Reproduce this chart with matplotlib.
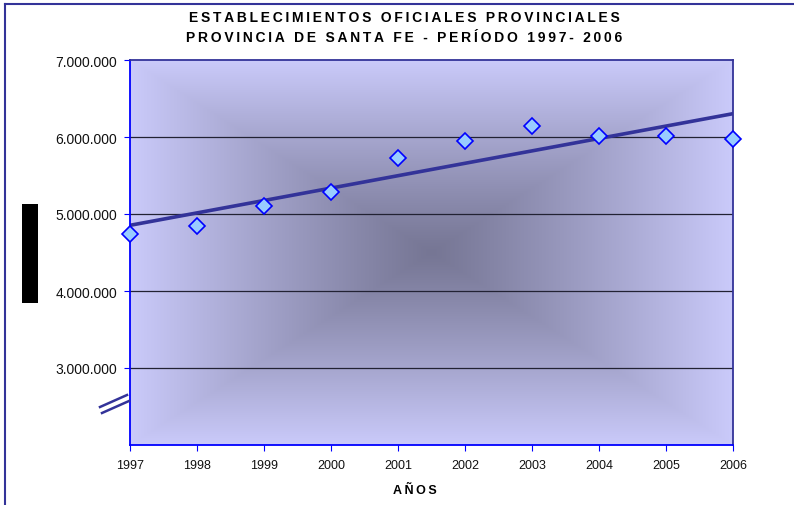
import numpy as np
import matplotlib.pyplot as plt
from matplotlib.lines import Line2D
from matplotlib.patches import Rectangle

# data
years = [1997, 1998, 1999, 2000, 2001, 2002, 2003, 2004, 2005, 2006]
values = [4740000, 4840000, 5100000, 5290000, 5730000,
          5950000, 6140000, 6010000, 6010000, 5970000]
y_ticks = [3000000, 4000000, 5000000, 6000000, 7000000]
y_labels = ['3.000.000', '4.000.000', '5.000.000', '6.000.000', '7.000.000']
title_lines = ["ESTABLECIMIENTOS OFICIALES PROVINCIALES",
               "PROVINCIA DE SANTA FE - PERÍODO 1997- 2006"]
x_title = "AÑOS"

plt.rcParams['font.family'] = ['Liberation Sans', 'DejaVu Sans']


def spaced(s):
    # wide letter spacing like the original chart
    return '\u2009'.join(s)


fig = plt.figure(figsize=(7.94, 5.06), dpi=100)
ax = fig.add_axes([130 / 794, 1 - 446 / 506, 603 / 794, 385 / 506])

# rectangular gradient background (dark centre, lavender edges)
n = 300
u = np.linspace(-1, 1, n)
U, V = np.meshgrid(u, u)
t = np.maximum(np.abs(U), np.abs(V))
t = t ** 1.1
centre = np.array([118, 118, 148]) / 255
edge = np.array([202, 202, 250]) / 255
img = centre[None, None, :] * (1 - t[..., None]) + edge[None, None, :] * t[..., None]
ax.imshow(img, extent=[0, 1, 0, 1], transform=ax.transAxes, aspect='auto',
          zorder=0, interpolation='bilinear')

ax.set_xlim(years[0], years[-1])
ax.set_ylim(2000000, 7000000)

# gridlines
for yv in y_ticks[:-1]:
    ax.axhline(yv, color='#222233', lw=0.9, zorder=1)

# trend line
coef = np.polyfit(years, values, 1)
trend = np.polyval(coef, years)
ax.plot(years, trend, color='#333399', lw=2.6, zorder=2)

# data points
ax.plot(years, values, linestyle='none', marker='D', markersize=8,
        markerfacecolor='#99CCFF', markeredgecolor='#0000FF',
        markeredgewidth=1.2, zorder=3, clip_on=False)

ax.set_yticks(y_ticks)
ax.set_yticklabels(y_labels)
ax.set_xticks(years)
ax.set_xticklabels([str(y) for y in years])
ax.tick_params(axis='both', direction='out', length=4, color='#0000FF',
               labelcolor='#111111')
ax.tick_params(axis='y', pad=5, labelsize=10)
ax.tick_params(axis='x', pad=6, labelsize=9)

ax.spines['left'].set_color('#0000FF')
ax.spines['bottom'].set_color('#0000FF')
ax.spines['top'].set_color('#333399')
ax.spines['right'].set_color('#333399')
for s in ax.spines.values():
    s.set_linewidth(1.3)

fig.text(415 / 794, 1 - 491 / 506, spaced(x_title), ha='center', va='center',
         fontsize=9, fontweight='bold')

fig.text(404 / 794, 1 - 28 / 506, '\n'.join(spaced(l) for l in title_lines),
         ha='center', va='center', fontsize=10, fontweight='bold',
         linespacing=1.5)

# axis break mark
for dx, dy in [(0, 0), (2, 6)]:
    fig.add_artist(Line2D([(100 + dx) / 794, (127 + dx) / 794],
                          [1 - (408 + dy) / 506, 1 - (396 + dy) / 506],
                          color='#333399', lw=1.8, transform=fig.transFigure))

# black box where the y label sits
fig.add_artist(Rectangle((22 / 794, 1 - 304 / 506), 16 / 794, 99 / 506,
                         facecolor='black', edgecolor='none',
                         transform=fig.transFigure))

# outer chart frame
fig.add_artist(Line2D([5 / 794, 5 / 794], [0, 1 - 5 / 506], color='#333399',
                      lw=1.5, transform=fig.transFigure))
fig.add_artist(Line2D([5 / 794, 1], [1 - 5 / 506, 1 - 5 / 506], color='#333399',
                      lw=1.5, transform=fig.transFigure))

fig.savefig('out.png', dpi=100)
